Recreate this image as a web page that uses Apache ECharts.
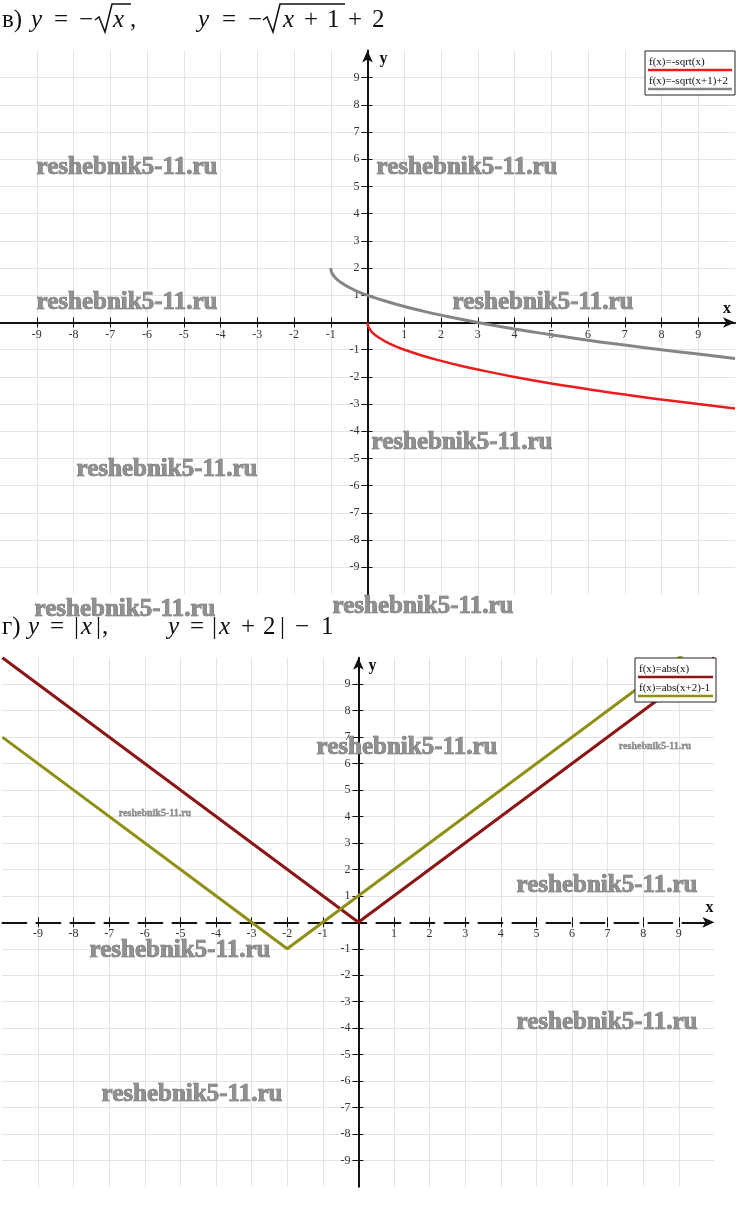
<!DOCTYPE html>
<html><head><meta charset="utf-8">
<script src="https://cdn.jsdelivr.net/npm/echarts@6/dist/echarts.min.js"></script>
<style>html,body{margin:0;padding:0;background:#fff}#c{width:737px;height:1222px}</style>
</head><body><div id="c"></div>
<script>
// ---- data ----
const TICK_VALUES = [-9,-8,-7,-6,-5,-4,-3,-2,-1,1,2,3,4,5,6,7,8,9];

// chart "в": y = -sqrt(x)
const SQRT_X = [0, 0.01, 0.04, 0.1, 0.2, 0.35, 0.5, 0.75, 1, 1.5, 2, 2.5, 3, 4, 5, 6, 7, 8, 9, 10];
const SQRT_Y = [0, -0.1, -0.2, -0.32, -0.45, -0.59, -0.71, -0.87, -1, -1.22, -1.41, -1.58, -1.73, -2, -2.24, -2.45, -2.65, -2.83, -3, -3.16];
// chart "в": y = -sqrt(x+1)+2
const SHIFT_X = [-1, -0.99, -0.96, -0.9, -0.8, -0.65, -0.5, -0.25, 0, 0.5, 1, 1.5, 2, 3, 4, 5, 6, 7, 8, 9, 10];
const SHIFT_Y = [2, 1.9, 1.8, 1.68, 1.55, 1.41, 1.29, 1.13, 1, 0.78, 0.59, 0.42, 0.27, 0, -0.24, -0.45, -0.65, -0.83, -1, -1.16, -1.32];
// chart "г": y = |x|
const ABS_X = [-10, 0, 10];
const ABS_Y = [10, 0, 10];
// chart "г": y = |x+2|-1
const ABS2_X = [-10, -2, 10];
const ABS2_Y = [7, -1, 11];

const LEGEND_TOP = ['f(x)=-sqrt(x)', 'f(x)=-sqrt(x+1)+2'];
const LEGEND_BOTTOM = ['f(x)=abs(x)', 'f(x)=abs(x+2)-1'];
const WATERMARK = 'reshebnik5-11.ru';

// ---- layout / styles ----
const W = 737, H = 1222;
const G0 = {left: 0, right: 2, top: 50.5, bottom: 627.5};
const G1 = {left: 2.4, right: 22.6, top: 657.8, bottom: 35.2};
const SERIF = "'Liberation Serif','Times New Roman',serif";
const C_RED = '#ec1c1c', C_GRAY = '#858585', C_MAROON = '#8a1616', C_OLIVE = '#8f8f14';

const zip = (a, b) => a.map((v, i) => [v, b[i]]);
const fmt = v => (v === 0 || Math.abs(v) >= 10) ? '' : String(v);
// axes cross at the middle of each (symmetric -10..10) grid
const xOff = g => -(H - g.top - g.bottom) / 2;
const yOff = g => -(W - g.left - g.right) / 2;

function mainX(gi, g, dashed, nameGap, namePad) {
  return {
    type: 'value', gridIndex: gi, min: -10, max: 10, interval: 1, position: 'bottom', offset: xOff(g),
    name: 'x', nameLocation: 'end', nameGap: nameGap,
    nameTextStyle: {fontFamily: SERIF, fontWeight: 'bold', fontSize: 16, color: '#111', align: 'center', verticalAlign: 'bottom', padding: [0, 0, namePad, 0]},
    axisLine: {onZero: false, symbol: ['none', 'arrow'], symbolSize: [8, 12], lineStyle: {color: '#111', width: 2, type: dashed ? [24, 10] : 'solid'}},
    axisTick: {show: true, inside: false, length: 5, customValues: TICK_VALUES, lineStyle: {color: '#111', width: 1}},
    axisLabel: {customValues: TICK_VALUES, formatter: fmt, fontFamily: SERIF, fontSize: 12, color: '#333', margin: 6, hideOverlap: false},
    splitLine: {show: true, lineStyle: {color: '#e4e4e4', width: 1}}
  };
}
function mainY(gi, g, nameGap, padLeft) {
  return {
    type: 'value', gridIndex: gi, min: -10, max: 10, interval: 1, position: 'left', offset: yOff(g),
    name: 'y', nameLocation: 'end', nameGap: nameGap,
    nameTextStyle: {fontFamily: SERIF, fontWeight: 'bold', fontSize: 16, color: '#111', align: 'left', verticalAlign: 'middle', padding: [0, 0, 0, padLeft]},
    axisLine: {onZero: false, symbol: ['none', 'arrow'], symbolSize: [8, 12], lineStyle: {color: '#111', width: 2}},
    axisTick: {show: true, inside: false, length: 6, customValues: TICK_VALUES, lineStyle: {color: '#111', width: 1}},
    axisLabel: {customValues: TICK_VALUES, formatter: fmt, fontFamily: SERIF, fontSize: 12, color: '#333', margin: 8, hideOverlap: false},
    splitLine: {show: true, lineStyle: {color: '#e4e4e4', width: 1}}
  };
}
function tickAxis(gi, pos, off) {
  return {
    type: 'value', gridIndex: gi, min: -10, max: 10, interval: 1, position: pos, offset: off,
    axisLine: {onZero: false, show: false},
    axisTick: {show: true, inside: true, length: 5, customValues: TICK_VALUES, lineStyle: {color: '#111', width: 1}},
    axisLabel: {show: false}, splitLine: {show: false}
  };
}

// ---- graphic helpers (text / legend boxes) ----
function T(x, y, s, size, opt) {
  opt = opt || {};
  return {type: 'text', x: x, y: y, z: 100, silent: true,
    style: {text: s, font: (opt.italic ? 'italic ' : '') + (opt.bold ? 'bold ' : '') + size + 'px ' + SERIF,
      fill: opt.fill || '#111', align: opt.align || 'left', verticalAlign: 'middle',
      stroke: opt.stroke || null, lineWidth: opt.lw || 0}};
}
function L(x1, y1, x2, y2, color, w) {
  return {type: 'line', z: 100, silent: true, shape: {x1: x1, y1: y1, x2: x2, y2: y2}, style: {stroke: color, lineWidth: w}};
}
function P(points, w) {
  return {type: 'polyline', z: 100, silent: true, shape: {points: points}, style: {stroke: '#111', lineWidth: w, fill: null}};
}
function legendBox(x, y, w, h, labels, colors) {
  return {type: 'group', x: x, y: y, z: 100, children: [
    {type: 'rect', z: 100, shape: {x: 0, y: 0, width: w, height: h}, style: {fill: '#fff', stroke: '#222', lineWidth: 1}},
    T(4, 11, labels[0], 11),
    L(3, 19, w - 3, 19, colors[0], 2.5),
    T(4, 30, labels[1], 11),
    L(3, 38, w - 3, 38, colors[1], 2.5)
  ]};
}
function WM(cx, cy, size) {
  return T(cx, cy, WATERMARK, size, {bold: true, align: 'center', fill: '#909090', stroke: '#555', lw: size > 15 ? 0.7 : 0.3});
}

const FS = 25;
const graphics = [
  // header в)
  T(2, 20, 'в)', FS), T(31, 20, 'y', FS, {italic: true}), T(61, 20, '=', FS, {align: 'center'}),
  T(86, 20, '−', FS, {align: 'center'}),
  P([[95, 20], [99, 17], [105, 32], [112, 4], [131, 4]], 1.5),
  T(113, 20, 'x', FS, {italic: true}), T(130, 20, ',', FS),
  T(198, 20, 'y', FS, {italic: true}), T(229, 20, '=', FS, {align: 'center'}),
  T(255, 20, '−', FS, {align: 'center'}),
  P([[263, 20], [267, 17], [273, 32], [280, 4], [345, 4]], 1.5),
  T(283, 20, 'x', FS, {italic: true}), T(311, 20, '+', FS, {align: 'center'}), T(327, 20, '1', FS),
  T(355, 20, '+', FS, {align: 'center'}), T(372, 20, '2', FS),
  // header г)
  T(2, 627, 'г)', FS), T(28, 627, 'y', FS, {italic: true}), T(57, 627, '=', FS, {align: 'center'}),
  T(74, 627, '|', FS), T(81, 627, 'x', FS, {italic: true}), T(96, 627, '|', FS), T(102, 627, ',', FS),
  T(168, 627, 'y', FS, {italic: true}), T(197, 627, '=', FS, {align: 'center'}),
  T(212, 627, '|', FS), T(219, 627, 'x', FS, {italic: true}), T(248, 627, '+', FS, {align: 'center'}),
  T(263, 627, '2', FS), T(280, 627, '|', FS), T(302, 627, '−', FS, {align: 'center'}), T(321, 627, '1', FS),
  // legends
  legendBox(645, 51, 90, 44, LEGEND_TOP, [C_RED, C_GRAY]),
  legendBox(635, 658, 81, 44, LEGEND_BOTTOM, [C_MAROON, C_OLIVE]),
  // watermarks
  WM(127, 168, 25), WM(467, 168, 25), WM(127, 303, 25), WM(543, 303, 25),
  WM(462, 443, 25), WM(167, 470, 25), WM(125, 610, 25), WM(423, 607, 25),
  WM(407, 748, 25), WM(155, 813, 10), WM(655, 746, 10), WM(607, 886, 25),
  WM(180, 951, 25), WM(607, 1023, 25), WM(192, 1095, 25)
];

const chart = echarts.init(document.getElementById('c'), null, {renderer: 'canvas'});
chart.setOption({
  animation: false,
  backgroundColor: '#fff',
  grid: [
    Object.assign({outerBoundsMode: 'none', containLabel: false}, G0),
    Object.assign({outerBoundsMode: 'none', containLabel: false}, G1)
  ],
  xAxis: [mainX(0, G0, false, -8, 6), mainX(1, G1, true, -5, 6), tickAxis(0, 'bottom', xOff(G0)), tickAxis(1, 'bottom', xOff(G1))],
  yAxis: [mainY(0, G0, -8, 12), mainY(1, G1, -8, 10), tickAxis(0, 'left', yOff(G0)), tickAxis(1, 'left', yOff(G1))],
  series: [
    {name: LEGEND_TOP[0], type: 'line', xAxisIndex: 0, yAxisIndex: 0, data: zip(SQRT_X, SQRT_Y), showSymbol: false,
      smooth: 0.5, lineStyle: {color: C_RED, width: 2.5}, z: 3},
    {name: LEGEND_TOP[1], type: 'line', xAxisIndex: 0, yAxisIndex: 0, data: zip(SHIFT_X, SHIFT_Y), showSymbol: false,
      smooth: 0.5, lineStyle: {color: C_GRAY, width: 3}, z: 3},
    {name: LEGEND_BOTTOM[0], type: 'line', xAxisIndex: 1, yAxisIndex: 1, data: zip(ABS_X, ABS_Y), showSymbol: false,
      lineStyle: {color: C_MAROON, width: 3}, z: 3},
    {name: LEGEND_BOTTOM[1], type: 'line', xAxisIndex: 1, yAxisIndex: 1, data: zip(ABS2_X, ABS2_Y), showSymbol: false,
      lineStyle: {color: C_OLIVE, width: 3}, z: 3}
  ],
  graphic: {elements: graphics}
});
</script>
</body></html>
